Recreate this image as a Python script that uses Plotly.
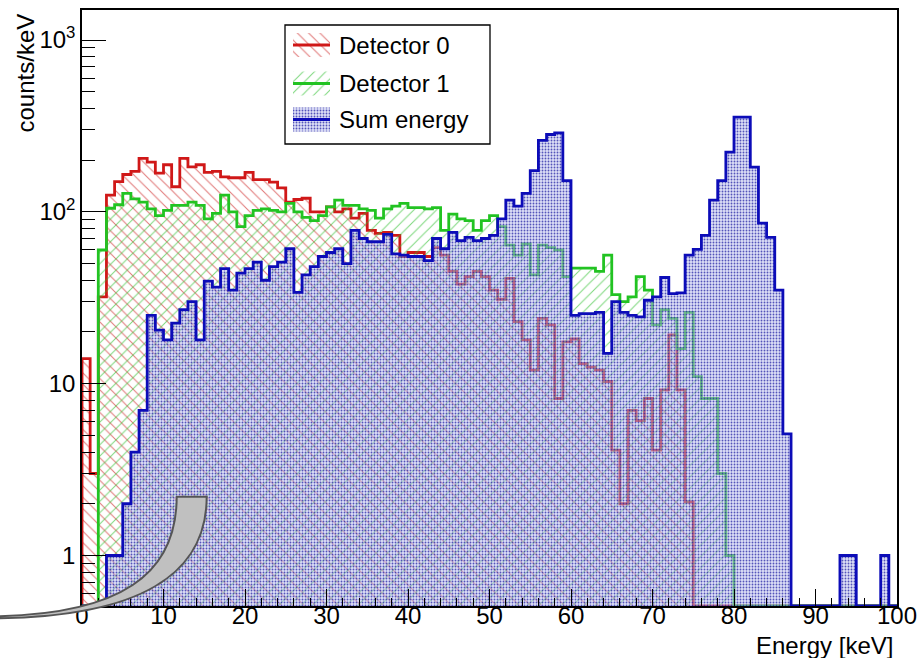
import plotly.graph_objects as go

# ---------------- data (counts per 1 keV bin, 0..100 keV) ----------------
bin_edges = list(range(0, 101))

detector0 = [14, 3, 32, 125, 150, 165, 172, 205, 195, 168,
             188, 140, 205, 183, 188, 170, 172, 160, 158, 158,
             170, 154, 154, 149, 138, 114, 118, 120, 100, 100,
             107, 100, 104, 92, 98, 78, 75, 76, 73, 55,
             58, 58, 55, 62, 56, 45, 38, 42, 45, 42,
             35, 31, 41, 23, 18, 12, 24, 22, 8.2, 17.5,
             18.2, 13.1, 12.5, 12, 10.3, 4.1, 2.0, 7.0, 6.1, 8.2,
             4.1, 9.2, 19.2, 9.2, 2.05, 0, 0, 0, 0, 0,
             0, 0, 0, 0, 0, 0, 0, 0, 0, 0,
             0, 0, 0, 0, 0, 0, 0, 0, 0, 0]

detector1 = [0, 0, 60, 105, 110, 128, 119, 114, 104, 95,
             102, 109, 109, 114, 109, 91, 98, 125, 100, 82,
             95, 102, 104, 102, 100, 112, 100, 93, 89, 95,
             107, 117, 109, 109, 104, 102, 92, 104, 108, 112,
             106, 106, 104, 106, 78, 97, 91, 89, 78, 89,
             95, 82, 64, 56, 65, 43, 64, 62, 60, 42,
             47, 47, 47, 45, 56, 33, 30, 32, 42, 35,
             22, 27, 24, 16, 26, 11, 8.2, 8.2, 3.0, 1.0,
             0, 0, 0, 0, 0, 0, 0, 0, 0, 0,
             0, 0, 0, 0, 0, 0, 0, 0, 0, 0]

sum_energy = [0, 0, 0, 1, 1, 2, 4, 7, 25, 20.5,
              18, 22.5, 27, 30, 18, 39.5, 36.5, 46.7, 35, 44,
              46.7, 51, 40, 48, 51, 61, 34, 43, 48, 55,
              58, 61, 50, 78, 70, 67, 67, 74, 57, 56,
              55, 55, 52, 70, 61, 76, 68, 71, 68, 70,
              73, 91, 117, 108, 128, 174, 261, 282, 288, 152,
              25, 25.6, 25.6, 26, 15, 30, 26, 25, 24.5, 30.6,
              32, 41.5, 33.4, 33.8, 56, 60.5, 73, 117, 152, 223,
              356, 356, 182, 86, 71, 35, 5.1, 0, 0, 0,
              0, 0, 0, 1, 1, 0, 0, 0, 1, 0]

series_names = ["Detector 0", "Detector 1", "Sum energy"]
y_tick_vals = [1, 10, 100, 1000]
y_tick_text = ["1", "10", "10<sup>2</sup>", "10<sup>3</sup>"]
x_tick_vals = list(range(0, 101, 10))

# ---------------- layout geometry ----------------
W, H = 918, 658
PL, PR, PT, PB = 82, 897, 10, 606          # plot-area pixel box
LOG_MIN, LOG_MAX = -0.294, 3.175
FLOOR = 10 ** LOG_MIN
FONT = "Liberation Sans, Arial, Helvetica, sans-serif"

line_colors = ["#d01818", "#22c322", "#0c0cb8"]
patterns = [
    dict(shape="\\", fgcolor="rgba(205,30,30,0.6)", bgcolor="rgba(0,0,0,0)",
         size=8, solidity=0.13, fillmode="replace"),
    dict(shape="/", fgcolor="rgba(40,190,40,0.6)", bgcolor="rgba(0,0,0,0)",
         size=8, solidity=0.13, fillmode="replace"),
    dict(shape=".", fgcolor="rgba(25,25,160,0.7)", bgcolor="rgba(185,190,238,0.5)",
         size=3, solidity=0.3, fillmode="replace"),
]


def step_path(values):
    xs, ys = [bin_edges[0]], [FLOOR]
    for i, v in enumerate(values):
        vv = v if v > 0 else FLOOR
        xs += [bin_edges[i], bin_edges[i + 1]]
        ys += [vv, vv]
    xs.append(bin_edges[-1])
    ys.append(FLOOR)
    return xs, ys


fig = go.Figure()

for vals, col, pat in zip([detector0, detector1, sum_energy], line_colors, patterns):
    xs, ys = step_path(vals)
    fig.add_trace(go.Scatter(x=xs, y=ys, mode="lines", fill="toself",
                             line=dict(width=0, color=col), fillcolor="rgba(0,0,0,0)",
                             fillpattern=pat, hoverinfo="skip", showlegend=False))
    fig.add_trace(go.Scatter(x=xs, y=ys, mode="lines",
                             line=dict(width=2.8, color=col), showlegend=False))

# ---------------- manual legend (pixel coordinates on overlay axes) ----------------
leg_rows = [45, 83.5, 119.5]
for name, col, pat, yc in zip(series_names, line_colors, patterns, leg_rows):
    fig.add_trace(go.Scatter(x=[293, 330, 330, 293, 293], y=[yc - 12, yc - 12, yc + 12, yc + 12, yc - 12],
                             mode="lines", fill="toself", line=dict(width=0, color=col),
                             fillcolor="rgba(0,0,0,0)", fillpattern=pat,
                             xaxis="x2", yaxis="y2", showlegend=False, hoverinfo="skip"))
    fig.add_trace(go.Scatter(x=[293, 330], y=[yc, yc], mode="lines",
                             line=dict(width=2.8, color=col),
                             xaxis="x2", yaxis="y2", showlegend=False, hoverinfo="skip"))
    fig.add_annotation(x=337, y=yc, xref="x2", yref="y2", text=name, showarrow=False,
                       xanchor="left", yanchor="middle",
                       font=dict(family=FONT, size=24, color="black"))

fig.add_shape(type="rect", xref="x2", yref="y2", x0=285, x1=490, y0=25, y1=144,
              line=dict(color="black", width=1.3), fillcolor="white", layer="below")


def px2paper(px, py):
    return (px - PL) / (PR - PL), (PB - py) / (PB - PT)


# gray curved arrow decoration
pts = [(176.7, 496.7), (206.7, 496.7),
       (206.7, 575), (140, 617), (-5, 618.3),
       (-5, 616.3),
       (120, 614), (176.7, 575), (176.7, 496.7)]
pp = [px2paper(*p) for p in pts]
path = ("M {0[0]},{0[1]} L {1[0]},{1[1]} C {2[0]},{2[1]} {3[0]},{3[1]} {4[0]},{4[1]} "
        "L {5[0]},{5[1]} C {6[0]},{6[1]} {7[0]},{7[1]} {8[0]},{8[1]} Z").format(*pp)
fig.add_shape(type="path", path=path, xref="paper", yref="paper",
              fillcolor="#c0c0c0", line=dict(color="#555555", width=2), layer="above")

# axis titles
tx, ty = px2paper(25, 12)
fig.add_annotation(x=tx, y=ty, xref="paper", yref="paper", text="counts/keV",
                   textangle=-90, showarrow=False, xanchor="center", yanchor="top",
                   font=dict(family=FONT, size=24, color="black"))
ex, ey = px2paper(895, 646)
fig.add_annotation(x=ex, y=ey, xref="paper", yref="paper", text="Energy [keV]",
                   showarrow=False, xanchor="right", yanchor="middle",
                   font=dict(family=FONT, size=24, color="black"))

minor_y = [m * 10 ** d for d in range(-1, 3) for m in range(2, 10) if m * 10 ** d > FLOOR]

fig.update_layout(
    width=W, height=H,
    margin=dict(l=PL, r=W - PR, t=PT, b=H - PB, pad=0, autoexpand=False),
    paper_bgcolor="white", plot_bgcolor="white",
    font=dict(family=FONT, size=24, color="black"),
    showlegend=False,
    xaxis=dict(range=[0, 100], tickvals=x_tick_vals, ticks="inside", ticklen=17,
               tickwidth=1.2, tickcolor="black", showgrid=False, zeroline=False,
               showline=True, mirror=True, linecolor="black", linewidth=1.5,
               tickfont=dict(size=24), automargin=False, layer="above traces",
               ticklabelstandoff=-13,
               minor=dict(dtick=2, tick0=0, ticks="inside", ticklen=8, tickwidth=1,
                          tickcolor="black", showgrid=False)),
    yaxis=dict(type="log", range=[LOG_MIN, LOG_MAX], tickmode="array",
               tickvals=y_tick_vals, ticktext=y_tick_text, ticks="inside", ticklen=24,
               tickwidth=1.2, tickcolor="black", showgrid=False, zeroline=False,
               showline=True, mirror=True, linecolor="black", linewidth=1.5,
               tickfont=dict(size=24), automargin=False, layer="above traces",
               minor=dict(tickmode="array", tickvals=minor_y, ticks="inside", ticklen=13,
                          tickwidth=1, tickcolor="black", showgrid=False)),
    xaxis2=dict(overlaying="x", anchor="y2", range=[PL, PR], visible=False),
    yaxis2=dict(overlaying="y", anchor="x2", range=[PB, PT], visible=False),
)

fig.write_html("out.html")
